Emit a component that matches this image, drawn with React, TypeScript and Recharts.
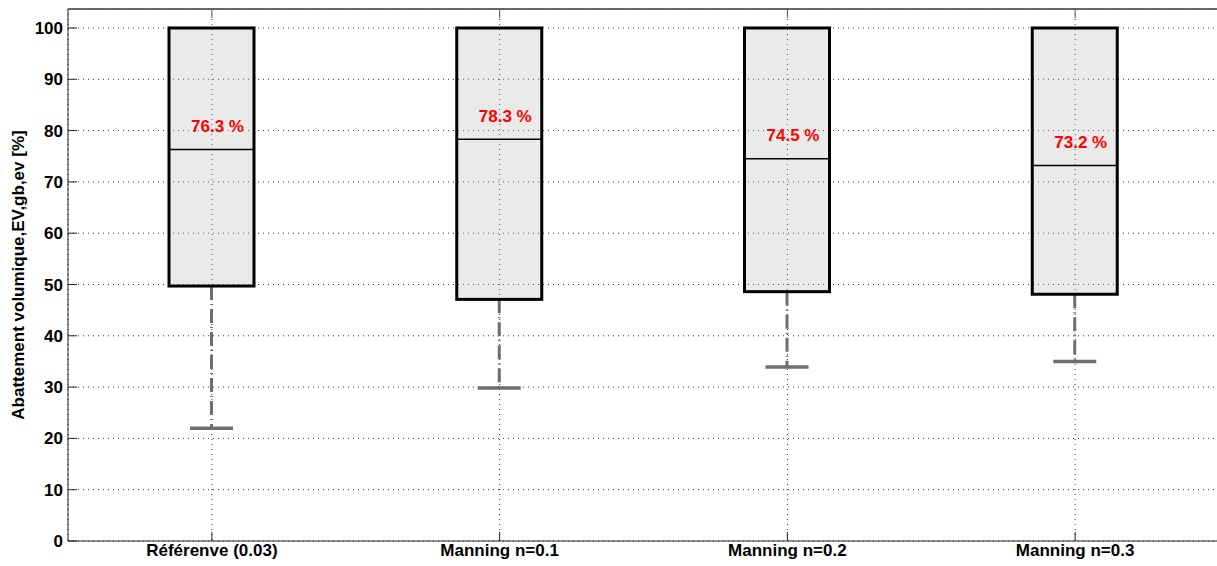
import React from 'react'
import {
  ComposedChart,
  Bar,
  XAxis,
  YAxis,
  CartesianGrid,
  Label,
  ReferenceLine,
} from 'recharts'

const categories = ['Référenve (0.03)', 'Manning n=0.1', 'Manning n=0.2', 'Manning n=0.3']
const whiskerLow = [22.0, 29.8, 33.9, 35.0]
const quartile1 = [49.7, 47.1, 48.6, 48.1]
const medians = [76.3, 78.3, 74.5, 73.2]
const quartile3 = [100, 100, 100, 100]
const yTicks = [0, 10, 20, 30, 40, 50, 60, 70, 80, 90, 100]
const yMax = 103.7

const chartData = categories.map((name, i) => ({
  name,
  range: [whiskerLow[i], quartile3[i]],
  q1: quartile1[i],
  median: medians[i],
}))

const FONT = '"Liberation Sans", Arial, sans-serif'

// draws whisker, cap, box and median from the bar's [min, q3] range
const BoxShape = (props: any) => {
  const { x, y, width, height, payload } = props
  const [lo, hi] = payload.range
  const top = Math.min(y, y + height)
  const h = Math.abs(height)
  const ppu = h / (hi - lo)
  const toY = (v: number) => top + (hi - v) * ppu
  const cx = x + width / 2
  const yQ1 = toY(payload.q1)
  const yMed = toY(payload.median)
  const yMin = toY(lo)
  const capHalf = 21.5
  return (
    <g>
      <line x1={cx} x2={cx} y1={yQ1} y2={yMin} stroke="#6e6e6e" strokeWidth={3} strokeDasharray="14 4 1 4" />
      <line x1={cx - capHalf} x2={cx + capHalf} y1={yMin} y2={yMin} stroke="#6e6e6e" strokeWidth={3.5} />
      <rect x={x} y={top} width={width} height={yQ1 - top} fill="#bfbfbf" fillOpacity={0.33} stroke="#000" strokeWidth={3} />
      <line x1={x} x2={x + width} y1={yMed} y2={yMed} stroke="#000" strokeWidth={1.6} />
      <text
        x={cx + 6}
        y={yMed - 23}
        textAnchor="middle"
        dominantBaseline="central"
        fill="#ff0000"
        fontFamily={FONT}
        fontWeight="bold"
        fontSize={17}
      >
        {`${payload.median.toFixed(1)} %`}
      </text>
    </g>
  )
}

export default function App() {
  return (
    <div style={{ position: 'absolute', left: 0, top: 0, width: 1217, height: 566, overflow: 'hidden', background: '#fff' }}>
      <ComposedChart
        width={1220}
        height={566}
        data={chartData}
        margin={{ top: 8, right: 1, bottom: 0, left: 0 }}
      >
        <CartesianGrid stroke="#333" strokeDasharray="1 4" />
        <XAxis
          dataKey="name"
          height={25}
          stroke="#262626"
          tickSize={-9}
          tickMargin={12}
          tick={{ fill: '#000', fontFamily: FONT, fontWeight: 'bold', fontSize: 17 }}
        />
        <XAxis
          xAxisId="top"
          dataKey="name"
          orientation="top"
          height={1}
          stroke="#555"
          tickSize={-9}
          tick={() => <g />}
        />
        <YAxis
          width={68}
          domain={[0, yMax]}
          ticks={yTicks}
          stroke="#262626"
          tickSize={-9}
          tickMargin={14}
          tick={{ fill: '#000', fontFamily: FONT, fontWeight: 'bold', fontSize: 17 }}
        >
          <Label
            value="Abattement volumique,EV,gb,ev [%]"
            angle={-90}
            position="center"
            dx={-16}
            style={{ fill: '#000', fontFamily: FONT, fontWeight: 'bold', fontSize: 17 }}
          />
        </YAxis>
        <YAxis
          yAxisId="right"
          orientation="right"
          width={0}
          domain={[0, yMax]}
          ticks={yTicks}
          stroke="#444"
          tickSize={-9}
          tick={() => <g />}
        />
        <ReferenceLine y={yMax} stroke="#555" strokeWidth={1.5} ifOverflow="visible" />
        <Bar dataKey="range" barSize={85} shape={<BoxShape />} isAnimationActive={false} />
      </ComposedChart>
    </div>
  )
}
